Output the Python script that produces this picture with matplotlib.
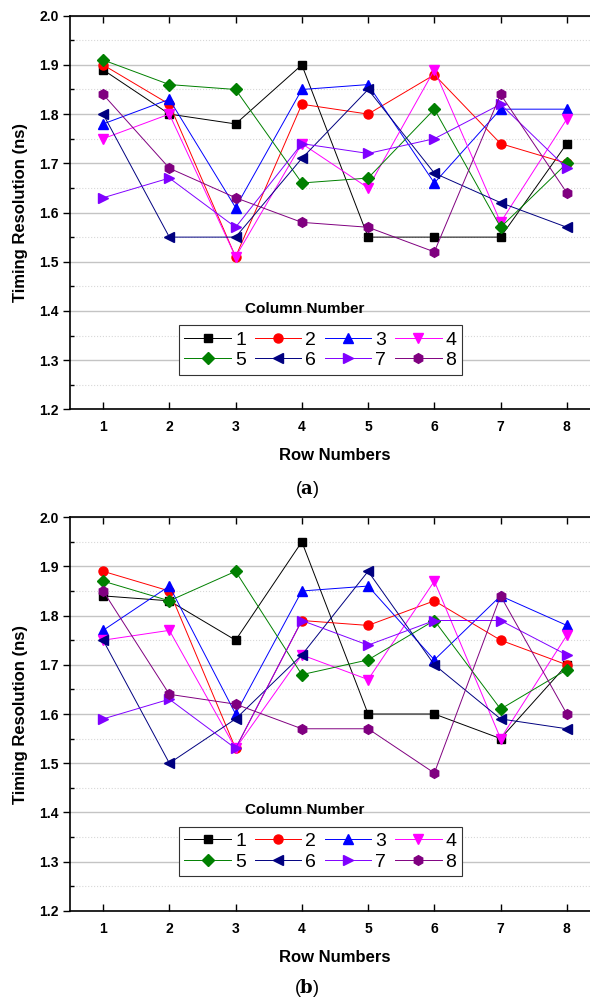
import numpy as np
import matplotlib
matplotlib.use('Agg')
import matplotlib.pyplot as plt
from matplotlib.ticker import MultipleLocator

plt.rcParams['font.family'] = ['Liberation Sans', 'DejaVu Sans']
plt.rcParams['mathtext.fontset'] = 'dejavuserif'

rows = [1, 2, 3, 4, 5, 6, 7, 8]
columns = ['1', '2', '3', '4', '5', '6', '7', '8']

# timing resolution (ns), one list per column number, panel (a)
a_col1 = [1.89, 1.80, 1.78, 1.90, 1.55, 1.55, 1.55, 1.74]
a_col2 = [1.90, 1.82, 1.51, 1.82, 1.80, 1.88, 1.74, 1.70]
a_col3 = [1.78, 1.83, 1.61, 1.85, 1.86, 1.66, 1.81, 1.81]
a_col4 = [1.75, 1.80, 1.51, 1.74, 1.65, 1.89, 1.58, 1.79]
a_col5 = [1.91, 1.86, 1.85, 1.66, 1.67, 1.81, 1.57, 1.70]
a_col6 = [1.80, 1.55, 1.55, 1.71, 1.85, 1.68, 1.62, 1.57]
a_col7 = [1.63, 1.67, 1.57, 1.74, 1.72, 1.75, 1.82, 1.69]
a_col8 = [1.84, 1.69, 1.63, 1.58, 1.57, 1.52, 1.84, 1.64]

# panel (b)
b_col1 = [1.84, 1.83, 1.75, 1.95, 1.60, 1.60, 1.55, 1.70]
b_col2 = [1.89, 1.85, 1.53, 1.79, 1.78, 1.83, 1.75, 1.70]
b_col3 = [1.77, 1.86, 1.60, 1.85, 1.86, 1.71, 1.84, 1.78]
b_col4 = [1.75, 1.77, 1.53, 1.72, 1.67, 1.87, 1.55, 1.76]
b_col5 = [1.87, 1.83, 1.89, 1.68, 1.71, 1.79, 1.61, 1.69]
b_col6 = [1.75, 1.50, 1.59, 1.72, 1.89, 1.70, 1.59, 1.57]
b_col7 = [1.59, 1.63, 1.53, 1.79, 1.74, 1.79, 1.79, 1.72]
b_col8 = [1.85, 1.64, 1.62, 1.57, 1.57, 1.48, 1.84, 1.60]

panel_a = [a_col1, a_col2, a_col3, a_col4, a_col5, a_col6, a_col7, a_col8]
panel_b = [b_col1, b_col2, b_col3, b_col4, b_col5, b_col6, b_col7, b_col8]

colors = ['#000000', '#ff0000', '#0000ff', '#ff00ff',
          '#008000', '#000080', '#8000ff', '#800080']
markers = ['s', 'o', '^', 'v', 'D', '<', '>', 'h']
msizes = [5.5, 6.5, 7, 7, 6, 7, 7, 7]


def draw_panel(ax, data):
    lines = []
    for vals, lab, c, m, ms in zip(data, columns, colors, markers, msizes):
        ln, = ax.plot(rows, vals, color=c, lw=0.7, marker=m, ms=ms,
                      mfc=c, mec=c, label=lab, zorder=3)
        lines.append(ln)

    ax.set_xlim(0.5, 8.5)
    ax.set_ylim(1.2, 2.0)
    ax.set_xticks(rows)
    ax.yaxis.set_major_locator(MultipleLocator(0.1))
    ax.yaxis.set_minor_locator(MultipleLocator(0.05))
    ax.yaxis.set_major_formatter(plt.FormatStrFormatter('%.1f'))

    ax.grid(axis='y', which='major', color='#c4c4c4', lw=1.0, ls='-', zorder=0)
    ax.grid(axis='y', which='minor', color='#d8d8d8', lw=0.8, ls=':', zorder=0)
    ax.set_axisbelow(True)

    ax.tick_params(axis='x', which='major', direction='in', top=True,
                   length=5, width=1, pad=8, labelsize=10)
    ax.tick_params(axis='y', which='major', direction='out', length=5,
                   width=1, pad=3, labelsize=10)
    ax.tick_params(axis='y', which='minor', direction='in', length=3, width=1)
    for t in ax.get_xticklabels() + ax.get_yticklabels():
        t.set_fontweight('bold')
    for s in ax.spines.values():
        s.set_linewidth(1.2)

    ax.set_xlabel('Row Numbers', fontsize=12, fontweight='bold', labelpad=10)
    ax.set_ylabel('Timing Resolution (ns)', fontsize=12, fontweight='bold',
                  labelpad=8)

    # legend reads row-wise: 1 2 3 4 / 5 6 7 8
    order = [0, 4, 1, 5, 2, 6, 3, 7]
    leg = ax.legend([lines[i] for i in order], [columns[i] for i in order],
                    ncol=4, loc='upper left', bbox_to_anchor=(0.205, 0.214),
                    fontsize=14, handlelength=2.4, handletextpad=0.2,
                    columnspacing=0.45, labelspacing=0.15, borderpad=0.3,
                    borderaxespad=0, fancybox=False, framealpha=1,
                    edgecolor='#333333')
    leg.get_frame().set_linewidth(0.8)
    ax.text(0.442, 0.256, 'Column Number', transform=ax.transAxes,
            ha='center', va='center', fontsize=11, fontweight='bold')
    return ax


fig = plt.figure(figsize=(5.9, 10.05), dpi=100)
ax_a = fig.add_axes([0.1186, 0.5927, 0.8983, 0.3917])
ax_b = fig.add_axes([0.1186, 0.0937, 0.8983, 0.3917])

draw_panel(ax_a, panel_a)
draw_panel(ax_b, panel_b)

fig.text(0.52, 1 - 490 / 1005, r'($\mathbf{a}$)', ha='center', va='center',
         fontsize=13)
fig.text(0.52, 1 - 988 / 1005, r'($\mathbf{b}$)', ha='center', va='center',
         fontsize=13)

fig.savefig('out.png', dpi=100)
